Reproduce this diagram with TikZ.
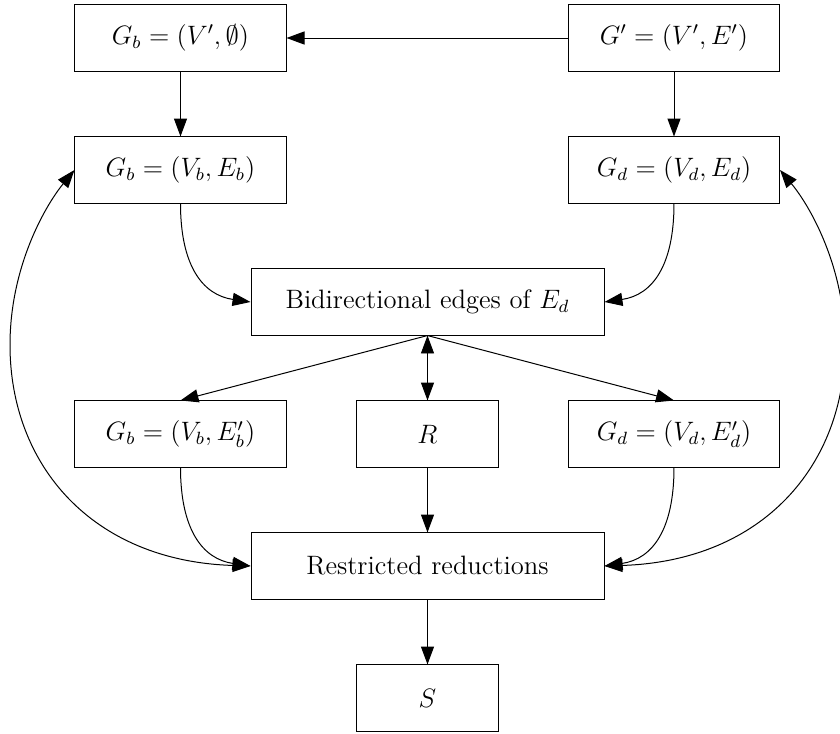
\documentclass[tikz,border=0pt]{standalone}
\usetikzlibrary{arrows.meta}
\tikzset{
  box/.style={draw, line width=0.45pt, inner sep=0pt, minimum height=29.8pt, font=\large},
  sidebox/.style={box, minimum width=95.2pt},
  widebox/.style={box, minimum width=159.2pt},
  smallbox/.style={box, minimum width=63.6pt},
  conn/.style={line width=0.45pt},
  arr/.style={conn, -{Triangle[length=8.1pt,width=5.9pt]}},
  darr/.style={conn, {Triangle[length=8.1pt,width=5.9pt]}-{Triangle[length=8.1pt,width=5.9pt]}}
}
\begin{document}
\begin{tikzpicture}[x=0.451pt, y=-0.451pt]
\useasboundingbox (0,0) rectangle (840,734);
\node[sidebox] (gb0) at (180.5,38) {$G_b = (V', \emptyset)$};
\node[sidebox] (gp) at (674,38) {$G' = (V', E')$};
\node[sidebox] (gb) at (180.5,170) {$G_b = (V_b, E_b)$};
\node[sidebox] (gd) at (674,170) {$G_d = (V_d, E_d)$};
\node[widebox] (bi) at (427.5,302) {Bidirectional edges of $E_d$};
\node[sidebox] (gbp) at (180.5,434) {$G_b = (V_b, E'_b)$};
\node[smallbox] (r) at (427.5,434) {$R$};
\node[sidebox] (gdp) at (674,434) {$G_d = (V_d, E'_d)$};
\node[widebox] (rr) at (427.5,566) {Restricted reductions};
\node[smallbox] (s) at (427.5,698) {$S$};
\coordinate (lp) at (10,345);
\coordinate (rp) at (845,345);

\draw[arr] (gp.west) -- (gb0.east);
\draw[arr] (gb0.south) -- (gb.north);
\draw[arr] (gp.south) -- (gd.north);
\draw[arr] (gb.south) .. controls +(0,62) and +(-48,-7) .. (bi.west);
\draw[arr] (gd.south) .. controls +(0,62) and +(48,-7) .. (bi.east);
\draw[arr] (bi.south) -- (gbp.north);
\draw[darr] (bi.south) -- (r.north);
\draw[arr] (bi.south) -- (gdp.north);
\draw[arr] (gbp.south) .. controls +(0,62) and +(-48,-7) .. (rr.west);
\draw[arr] (r.south) -- (rr.north);
\draw[arr] (gdp.south) .. controls +(0,62) and +(48,-7) .. (rr.east);
\draw[arr] (rr.south) -- (s.north);
\draw[darr] (gb.west) .. controls (45,206) and (10,267) .. (lp) .. controls (10,465) and (92,561) .. (rr.west);
\draw[darr] (gd.east) .. controls (810,206) and (845,267) .. (rp) .. controls (845,465) and (763,561) .. (rr.east);
\end{tikzpicture}
\end{document}
